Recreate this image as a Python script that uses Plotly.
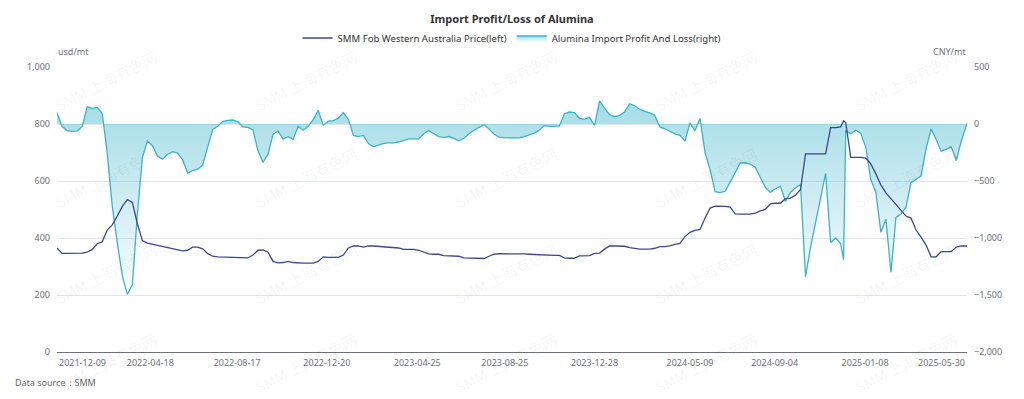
import plotly.graph_objects as go

# ---------------- data ----------------
dates = [
    "2021-12-09", "2021-12-16", "2021-12-23", "2021-12-30", "2022-01-06", "2022-01-13", "2022-01-20", "2022-01-27", "2022-02-03", "2022-02-10",
    "2022-02-17", "2022-02-24", "2022-03-03", "2022-03-10", "2022-03-17", "2022-03-24", "2022-03-31", "2022-04-07", "2022-04-14", "2022-04-21",
    "2022-04-28", "2022-05-05", "2022-05-12", "2022-05-19", "2022-05-26", "2022-06-02", "2022-06-09", "2022-06-16", "2022-06-23", "2022-06-30",
    "2022-07-07", "2022-07-14", "2022-07-21", "2022-07-28", "2022-08-04", "2022-08-11", "2022-08-18", "2022-08-25", "2022-09-01", "2022-09-08",
    "2022-09-15", "2022-09-22", "2022-09-29", "2022-10-06", "2022-10-13", "2022-10-20", "2022-10-27", "2022-11-03", "2022-11-10", "2022-11-17",
    "2022-11-24", "2022-12-01", "2022-12-08", "2022-12-15", "2022-12-22", "2022-12-29", "2023-01-05", "2023-01-12", "2023-01-19", "2023-01-26",
    "2023-02-02", "2023-02-09", "2023-02-16", "2023-02-23", "2023-03-02", "2023-03-09", "2023-03-16", "2023-03-23", "2023-03-30", "2023-04-06",
    "2023-04-13", "2023-04-20", "2023-04-27", "2023-05-04", "2023-05-11", "2023-05-18", "2023-05-25", "2023-06-01", "2023-06-08", "2023-06-15",
    "2023-06-22", "2023-06-29", "2023-07-06", "2023-07-13", "2023-07-20", "2023-07-27", "2023-08-03", "2023-08-10", "2023-08-17", "2023-08-24",
    "2023-08-31", "2023-09-07", "2023-09-14", "2023-09-21", "2023-09-28", "2023-10-05", "2023-10-12", "2023-10-19", "2023-10-26", "2023-11-02",
    "2023-11-09", "2023-11-16", "2023-11-23", "2023-11-30", "2023-12-07", "2023-12-14", "2023-12-21", "2023-12-28", "2024-01-04", "2024-01-11",
    "2024-01-18", "2024-01-25", "2024-02-01", "2024-02-08", "2024-02-15", "2024-02-22", "2024-02-29", "2024-03-07", "2024-03-14", "2024-03-21",
    "2024-03-28", "2024-04-04", "2024-04-11", "2024-04-18", "2024-04-25", "2024-05-02", "2024-05-09", "2024-05-16", "2024-05-23", "2024-05-30",
    "2024-06-06", "2024-06-13", "2024-06-20", "2024-06-27", "2024-07-04", "2024-07-11", "2024-07-18", "2024-07-25", "2024-08-01", "2024-08-08",
    "2024-08-15", "2024-08-22", "2024-08-29", "2024-09-05", "2024-09-12", "2024-09-19", "2024-09-26", "2024-10-03", "2024-10-10", "2024-10-17",
    "2024-10-24", "2024-10-31", "2024-11-07", "2024-11-14", "2024-11-21", "2024-11-28", "2024-12-05", "2024-12-09",
    "2024-12-12", "2024-12-19", "2024-12-26", "2025-01-02", "2025-01-09", "2025-01-16", "2025-01-23", "2025-01-30", "2025-02-06", "2025-02-13",
    "2025-02-20", "2025-02-27", "2025-03-06", "2025-03-13", "2025-03-20", "2025-03-27", "2025-04-03", "2025-04-10", "2025-04-17", "2025-04-24",
    "2025-05-01", "2025-05-08", "2025-05-15", "2025-05-22", "2025-05-30",
]

# SMM Fob Western Australia Price (usd/mt, left axis)
fob_price = [
    365, 346, 346, 346, 346, 347, 350, 360, 380, 386,
    428, 446, 477, 511, 535, 525, 450, 391, 382, 378,
    375, 370, 365, 361, 358, 355, 357, 368, 368, 362,
    345, 336, 334, 333, 332, 332, 331, 330, 330, 340,
    357, 358, 350, 318, 313, 314, 318, 314, 312, 312,
    312, 312, 318, 334, 332, 332, 332, 340, 365, 372,
    372, 368, 372, 372, 371, 368, 368, 368, 365, 360,
    360, 360, 357, 350, 344, 343, 343, 338, 337, 337,
    336, 330, 329, 329, 328, 328, 336, 343, 345, 345,
    345, 346, 345, 344, 343, 342, 340, 340, 340, 339,
    339, 330, 329, 329, 337, 337, 338, 346, 347, 361,
    372, 372, 372, 371, 366, 363, 361, 361, 361, 364,
    370, 370, 372, 378, 381, 405, 420, 427, 430, 470,
    505, 512, 512, 511, 508, 485, 484, 484, 484, 487,
    495, 500, 520, 522, 522, 538, 540, 550, 570, 695,
    695, 695, 695, 695, 787, 787, 790, 811,
    805, 683, 683, 683, 680, 660, 625, 586, 558, 536,
    518, 497, 477, 470, 428, 403, 375, 334, 334, 352,
    352, 352, 368, 372, 372,
]

# Alumina Import Profit And Loss (CNY/mt, right axis)
profit_loss = [
    100, -20, -58, -65, -62, -23, 150, 137, 145, 95,
    -255, -720, -1040, -1330, -1495, -1410, -790, -295, -148, -190,
    -282, -308, -268, -243, -255, -313, -430, -408, -396, -360,
    -200, -48, -19, 23, 32, 35, 20, -26, -30, -50,
    -235, -338, -265, -90, -60, -130, -111, -135, -20, -55,
    -20, 38, 120, -10, 25, 30, 50, 100, 40, -100,
    -110, -100, -172, -199, -185, -170, -165, -165, -158, -145,
    -130, -130, -130, -85, -58, -85, -110, -120, -110, -126,
    -148, -125, -85, -55, -30, -5, -45, -90, -115, -122,
    -120, -118, -121, -110, -96, -80, -55, -14, -20, -18,
    -18, 90, 105, 100, 50, 40, 58, -12, 200, 140,
    82, 62, 76, 108, 178, 160, 130, 110, 97, 75,
    -26, -42, -67, -86, -100, -150, 10, -60, 50, -250,
    -400, -594, -602, -590, -510, -420, -342, -340, -352, -380,
    -465, -555, -600, -568, -545, -680, -600, -560, -530, -1340,
    -1080, -860, -640, -433, -1040, -1000, -1050, -1190,
    -60, -85, -52, -82, -205, -490, -600, -950, -835, -1300,
    -820, -790, -730, -515, -485, -455, -215, -45, -133, -238,
    -222, -198, -320, -150, 5,
]

tick_labels = ["2021-12-09", "2022-04-18", "2022-08-17", "2022-12-20", "2023-04-25",
               "2023-08-25", "2023-12-28", "2024-05-09", "2024-09-04", "2025-01-08", "2025-05-30"]

left_ticks = [0, 200, 400, 600, 800, 1000]
right_ticks = [-2000, -1500, -1000, -500, 0, 500]

# ---------------- figure ----------------
W, H = 1024, 399
L, R, T, B = 57, 57, 67, 47
PW, PH = W - L - R, H - T - B

NAVY = "#3b4795"
TEAL = "#3bb3ca"
AXIS_TXT = "#6e7079"
FONT = "Noto Sans, Open Sans, sans-serif"

fig = go.Figure()

fig.add_trace(go.Scatter(
    x=dates, y=profit_loss, name="Alumina Import Profit And Loss(right)",
    mode="lines", line=dict(color=TEAL, width=1.3),
    fill="tozeroy",
    fillgradient=dict(type="vertical",
                      colorscale=[[0, "rgba(59,179,202,0.03)"], [1, "rgba(59,179,202,0.46)"]]),
    yaxis="y", legendrank=2, hoverinfo="x+y",
))
fig.add_trace(go.Scatter(
    x=dates, y=fob_price, name="SMM Fob Western Australia Price(left)",
    mode="lines", line=dict(color=NAVY, width=1.3),
    yaxis="y2", legendrank=1, hoverinfo="x+y",
))


def px_x(px):
    return (px - L) / PW


def px_y(py):
    return (H - B - py) / PH


annotations = [
    dict(text="usd/mt", xref="paper", yref="paper", x=px_x(56), y=px_y(51),
         xanchor="left", yanchor="middle", showarrow=False, font=dict(size=9, color=AXIS_TXT)),
    dict(text="CNY/mt", xref="paper", yref="paper", x=px_x(968), y=px_y(51),
         xanchor="right", yanchor="middle", showarrow=False, font=dict(size=9, color=AXIS_TXT)),
    dict(text="Data source：SMM", xref="paper", yref="paper", x=px_x(13), y=px_y(383),
         xanchor="left", yanchor="middle", showarrow=False, font=dict(size=9, color="#666666")),
    # end labels of the x axis are aligned inwards
    dict(text=tick_labels[0], xref="x", yref="paper", x=tick_labels[0], y=px_y(362),
         xanchor="left", yanchor="middle", showarrow=False, font=dict(size=9, color=AXIS_TXT)),
    dict(text=tick_labels[-1], xref="x", yref="paper", x=tick_labels[-1], y=px_y(362),
         xanchor="right", yanchor="middle", showarrow=False, font=dict(size=9, color=AXIS_TXT)),
]

# faint repeated watermark
for cx in [106, 306, 506, 706, 906]:
    for cy in [80, 177, 273, 363]:
        annotations.append(dict(
            text="SMM 上海有色网", xref="paper", yref="paper", x=px_x(cx), y=px_y(cy),
            xanchor="center", yanchor="middle", showarrow=False, textangle=-27,
            font=dict(size=15, color="rgba(0,0,0,0.05)",
                      family="Noto Sans CJK SC, Noto Sans, sans-serif"),
        ))

fig.update_layout(
    width=W, height=H,
    margin=dict(l=L, r=R, t=T, b=B, autoexpand=False),
    paper_bgcolor="white", plot_bgcolor="white",
    font=dict(family=FONT, size=9, color=AXIS_TXT),
    title=dict(text="<b>Import Profit/Loss of Alumina</b>", x=0.5, xanchor="center",
               y=1 - 19 / H, yanchor="middle", font=dict(size=11, color="#333333", family=FONT)),
    legend=dict(orientation="h", x=0.5, xanchor="center", yref="container", y=1 - 38 / H,
                yanchor="middle", font=dict(size=9.6, color="#333333"), itemwidth=30,
                bgcolor="rgba(0,0,0,0)"),
    showlegend=True,
    xaxis=dict(type="date", range=[dates[0], dates[-1]], showgrid=False, zeroline=False,
               showline=True, linecolor=AXIS_TXT, linewidth=1, ticks="",
               tickvals=tick_labels[1:-1], ticktext=tick_labels[1:-1],
               tickfont=dict(size=9, color=AXIS_TXT), ticklabelstandoff=2),
    yaxis=dict(side="right", range=[right_ticks[0], right_ticks[-1]], tickvals=right_ticks,
               tickformat=",", showgrid=True, gridcolor="#e0e6f1", gridwidth=1,
               zeroline=False, showline=False, ticks="",
               tickfont=dict(size=9, color=AXIS_TXT), ticklabelstandoff=6),
    yaxis2=dict(side="left", overlaying="y", range=[left_ticks[0], left_ticks[-1]],
                tickvals=left_ticks, tickformat=",", showgrid=False, zeroline=False,
                showline=False, ticks="", tickfont=dict(size=9, color=AXIS_TXT),
                ticklabelstandoff=6),
    annotations=annotations,
)

fig.write_html("out.html", config={"displayModeBar": False},
               post_script="document.body.style.margin='0px';")
